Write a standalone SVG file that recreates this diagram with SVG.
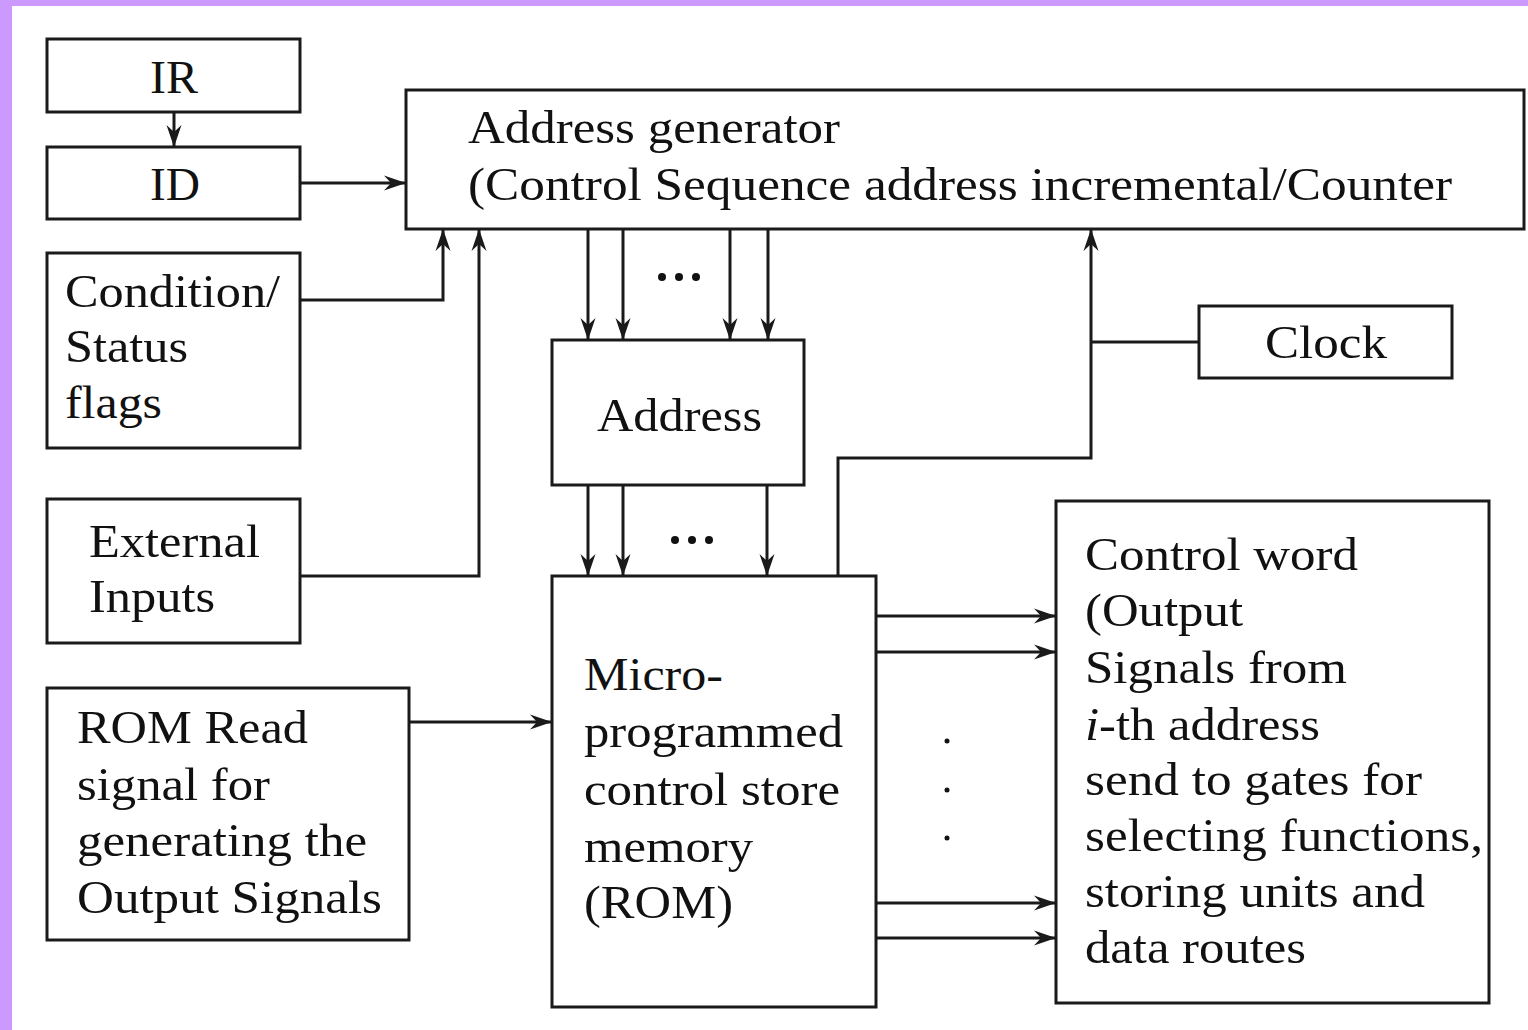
<svg xmlns="http://www.w3.org/2000/svg" width="1528" height="1030" viewBox="0 0 1528 1030">
<style>
.box{fill:#fff;stroke:#1a1a1a;stroke-width:3}
.t{font-family:"Liberation Serif","Times New Roman",serif;font-size:46px;fill:#111}
.c{fill:none;stroke:#1a1a1a;stroke-width:3}
.a{marker-end:url(#ah)}
</style>
<defs>
<marker id="ah" markerUnits="userSpaceOnUse" markerWidth="24" markerHeight="18" viewBox="0 0 24 18" refX="22" refY="9" orient="auto">
<path d="M0,1.5 L22,9 L0,16.5 L7,9 Z" fill="#1a1a1a"/>
</marker>
</defs>
<rect x="0" y="0" width="1528" height="1030" fill="#fff"/>
<rect x="0" y="0" width="1528" height="6" fill="#cc99ff"/>
<rect x="0" y="0" width="12" height="1030" fill="#cc99ff"/>

<g id="connectors">
<path class="c a" d="M174,112 V147"/>
<path class="c a" d="M300,183 H406"/>
<path class="c a" d="M300,300 H443 V229"/>
<path class="c a" d="M300,576 H479 V229"/>
<path class="c a" d="M588,229 V340"/>
<path class="c a" d="M623,229 V340"/>
<path class="c a" d="M730,229 V340"/>
<path class="c a" d="M768,229 V340"/>
<path class="c a" d="M588,485 V576"/>
<path class="c a" d="M623,485 V576"/>
<path class="c a" d="M767,485 V576"/>
<path class="c a" d="M838,576 V458 H1091 V229"/>
<path class="c" d="M1199,342 H1091"/>
<path class="c a" d="M409,722 H552"/>
<path class="c a" d="M876,616 H1056"/>
<path class="c a" d="M876,652 H1056"/>
<path class="c a" d="M876,903 H1056"/>
<path class="c a" d="M876,938 H1056"/>
<g fill="#111">
<circle cx="662" cy="277" r="4"/><circle cx="679" cy="277" r="4"/><circle cx="696" cy="277" r="4"/>
<circle cx="675" cy="540" r="4"/><circle cx="692" cy="540" r="4"/><circle cx="709" cy="540" r="4"/>
<circle cx="947" cy="741" r="2.5"/><circle cx="947" cy="790" r="2.5"/><circle cx="947" cy="838" r="2.5"/>
</g>
</g>

<g id="IR">
<rect class="box" x="47" y="39" width="253" height="73"/>
<text class="t" x="150" y="93" textLength="48" lengthAdjust="spacingAndGlyphs">IR</text>
</g>
<g id="ID">
<rect class="box" x="47" y="147" width="253" height="72"/>
<text class="t" x="150" y="200" textLength="50" lengthAdjust="spacingAndGlyphs">ID</text>
</g>
<g id="address-generator">
<rect class="box" x="406" y="90" width="1118" height="139"/>
<text class="t" x="468" y="143" textLength="372" lengthAdjust="spacingAndGlyphs">Address generator</text>
<text class="t" x="468" y="200" textLength="984" lengthAdjust="spacingAndGlyphs">(Control Sequence address incremental/Counter</text>
</g>
<g id="condition-status">
<rect class="box" x="47" y="253" width="253" height="195"/>
<text class="t" x="65" y="307" textLength="215" lengthAdjust="spacingAndGlyphs">Condition/</text>
<text class="t" x="65" y="362" textLength="123" lengthAdjust="spacingAndGlyphs">Status</text>
<text class="t" x="65" y="418" textLength="97" lengthAdjust="spacingAndGlyphs">flags</text>
</g>
<g id="external-inputs">
<rect class="box" x="47" y="499" width="253" height="144"/>
<text class="t" x="89" y="557" textLength="171" lengthAdjust="spacingAndGlyphs">External</text>
<text class="t" x="89" y="612" textLength="126" lengthAdjust="spacingAndGlyphs">Inputs</text>
</g>
<g id="rom-read">
<rect class="box" x="47" y="688" width="362" height="252"/>
<text class="t" x="77" y="743" textLength="231" lengthAdjust="spacingAndGlyphs">ROM Read</text>
<text class="t" x="77" y="800" textLength="193" lengthAdjust="spacingAndGlyphs">signal for</text>
<text class="t" x="77" y="856" textLength="290" lengthAdjust="spacingAndGlyphs">generating the</text>
<text class="t" x="77" y="913" textLength="305" lengthAdjust="spacingAndGlyphs">Output Signals</text>
</g>
<g id="address">
<rect class="box" x="552" y="340" width="252" height="145"/>
<text class="t" x="597" y="431" textLength="165" lengthAdjust="spacingAndGlyphs">Address</text>
</g>
<g id="control-store">
<rect class="box" x="552" y="576" width="324" height="431"/>
<text class="t" x="584" y="690" textLength="139" lengthAdjust="spacingAndGlyphs">Micro-</text>
<text class="t" x="584" y="747" textLength="259" lengthAdjust="spacingAndGlyphs">programmed</text>
<text class="t" x="584" y="805" textLength="256" lengthAdjust="spacingAndGlyphs">control store</text>
<text class="t" x="584" y="862" textLength="169" lengthAdjust="spacingAndGlyphs">memory</text>
<text class="t" x="584" y="918" textLength="149" lengthAdjust="spacingAndGlyphs">(ROM)</text>
</g>
<g id="clock">
<rect class="box" x="1199" y="306" width="253" height="72"/>
<text class="t" x="1265" y="358" textLength="122" lengthAdjust="spacingAndGlyphs">Clock</text>
</g>
<g id="control-word">
<rect class="box" x="1056" y="501" width="433" height="502"/>
<text class="t" x="1085" y="570" textLength="273" lengthAdjust="spacingAndGlyphs">Control word</text>
<text class="t" x="1085" y="626" textLength="158" lengthAdjust="spacingAndGlyphs">(Output</text>
<text class="t" x="1085" y="683" textLength="262" lengthAdjust="spacingAndGlyphs">Signals from</text>
<text class="t" x="1085" y="740" textLength="235" lengthAdjust="spacingAndGlyphs"><tspan font-style="italic">i</tspan>-th address</text>
<text class="t" x="1085" y="795" textLength="337" lengthAdjust="spacingAndGlyphs">send to gates for</text>
<text class="t" x="1085" y="851" textLength="398" lengthAdjust="spacingAndGlyphs">selecting functions,</text>
<text class="t" x="1085" y="907" textLength="340" lengthAdjust="spacingAndGlyphs">storing units and</text>
<text class="t" x="1085" y="963" textLength="221" lengthAdjust="spacingAndGlyphs">data routes</text>
</g>
</svg>
